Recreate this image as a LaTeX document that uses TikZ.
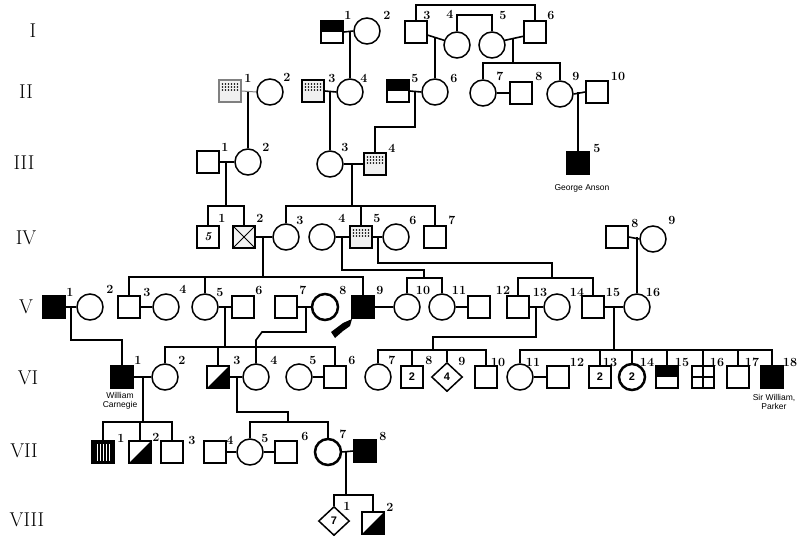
\documentclass[tikz,border=0pt]{standalone}
\usepackage{fontspec}
\newfontfamily\namefont{Liberation Sans}
\usetikzlibrary{shapes.geometric,calc}
\begin{document}
\begin{tikzpicture}[x=1pt,y=-1pt,
  sq/.style={draw, rectangle, minimum size=22pt, inner sep=0pt, line width=1.5pt},
  ci/.style={draw, circle, minimum size=26pt, inner sep=0pt, line width=1.5pt},
  thk/.style={line width=2.5pt},
  dm/.style={draw, diamond, minimum width=31pt, minimum height=29pt, inner sep=0pt, line width=1.5pt},
  blk/.style={sq, fill=black},
  halftop/.style={sq, path picture={\fill[black] (path picture bounding box.north west) rectangle (path picture bounding box.east);}},
  diagsq/.style={sq, path picture={\fill[black] (path picture bounding box.north east) -- (path picture bounding box.south east) -- (path picture bounding box.south west) -- cycle;}},
  dotsq/.style={sq, fill=gray!12, path picture={\foreach \i in {-7.5,-4.5,-1.5,1.5,4.5,7.5}{\foreach \j in {-7,-4,-1}{\fill[black] ($(path picture bounding box.center)+(\i,\j)$) circle (0.9);}}}},
  crosssq/.style={sq, fill=gray!10, path picture={\draw[line width=0.8pt] (path picture bounding box.north west) -- (path picture bounding box.south east) (path picture bounding box.north east) -- (path picture bounding box.south west);}},
  quartsq/.style={sq, path picture={\draw[line width=1.4pt] (path picture bounding box.north) -- (path picture bounding box.south) (path picture bounding box.west) -- (path picture bounding box.east);}},
  stripesq/.style={sq, fill=black, path picture={\foreach \i in {-6,-3,0,3,6}{\draw[white, line width=0.9pt] ($(path picture bounding box.center)+(\i,-8)$) -- ++(0,17);}}},
  ln/.style={line width=1.6pt},
  lab/.style={font=\fontsize{12.5}{12.5}\selectfont\bfseries, inner sep=0pt},
  gen/.style={font=\fontsize{20}{20}\selectfont, inner sep=0pt},
  nm/.style={font=\namefont\fontsize{8.5}{9.5}\selectfont, align=center, inner sep=0pt},
  inn/.style={font=\namefont\fontsize{11}{11}\selectfont\bfseries}
]
\useasboundingbox (0,0) rectangle (802,536);

% generation labels
\node[gen] (gI) at (33,31) {I};
\node[gen] (gII) at (26,92) {II};
\node[gen] (gIII) at (24,163) {III};
\node[gen] (gIV) at (26,238) {IV};
\node[gen] (gV) at (26,307) {V};
\node[gen] (gVI) at (28,378) {VI};
\node[gen] (gVII) at (24,451) {VII};
\node[gen] (gVIII) at (27,520) {VIII};

% ---------- generation I ----------
\node[halftop] (I1) at (332,32) {};
\node[ci] (I2) at (367,31) {};
\node[sq] (I3) at (416,32) {};
\node[ci] (I4) at (457,45) {};
\node[ci] (I5) at (492,45) {};
\node[sq] (I6) at (535,32) {};
\node[lab] (lI1) at (348,15) {1};
\node[lab] (lI2) at (387,15) {2};
\node[lab] (lI3) at (427,15) {3};
\node[lab] (lI4) at (450,14) {4};
\node[lab] (lI5) at (503,15) {5};
\node[lab] (lI6) at (551,15) {6};
\coordinate (tI36) at (475,5);
\coordinate (tI45) at (475,15);
\coordinate (mI34) at (434,38);
\coordinate (mI56) at (513,39);
\coordinate (bII79) at (513,63);

% ---------- generation II ----------
\node[dotsq, draw=gray] (II1) at (230,91) {};
\node[ci] (II2) at (270,92) {};
\node[dotsq] (II3) at (313,91) {};
\node[ci] (II4) at (350,92) {};
\node[halftop] (II5) at (398,91) {};
\node[ci] (II6) at (435,92) {};
\node[ci] (II7) at (483,93) {};
\node[sq] (II8) at (521,93) {};
\node[ci] (II9) at (560,94) {};
\node[sq] (II10) at (597,92) {};
\node[lab] (lII1) at (248,78) {1};
\node[lab] (lII2) at (287,77) {2};
\node[lab] (lII3) at (332,78) {3};
\node[lab] (lII4) at (364,78) {4};
\node[lab] (lII5) at (415,78) {5};
\node[lab] (lII6) at (454,78) {6};
\node[lab] (lII7) at (500,76) {7};
\node[lab] (lII8) at (539,76) {8};
\node[lab] (lII9) at (576,76) {9};
\node[lab] (lII10) at (618,76) {10};
\coordinate (mII56) at (415,92);

% ---------- generation III ----------
\node[sq] (III1) at (208,162) {};
\node[ci] (III2) at (248,162) {};
\node[ci] (III3) at (330,164) {};
\node[dotsq] (III4) at (375,164) {};
\node[blk] (III5) at (578,163) {};
\node[lab] (lIII1) at (225,147) {1};
\node[lab] (lIII2) at (266,147) {2};
\node[lab] (lIII3) at (345,147) {3};
\node[lab] (lIII4) at (392,148) {4};
\node[lab] (lIII5) at (597,148) {5};
\node[nm] (nIII5) at (582,188) {George Anson};
\coordinate (bIV12) at (226,206);
\coordinate (bIV37) at (352,206);

% ---------- generation IV ----------
\node[sq] (IV1) at (208,237) {\fontsize{12}{12}\selectfont\bfseries\itshape 5};
\node[crosssq] (IV2) at (244,237) {};
\node[ci] (IV3) at (286,237) {};
\node[ci] (IV4) at (322,237) {};
\node[dotsq] (IV5) at (361,237) {};
\node[ci] (IV6) at (396,237) {};
\node[sq] (IV7) at (435,237) {};
\node[sq] (IV8) at (617,237) {};
\node[ci] (IV9) at (653,239) {};
\node[lab] (lIV1) at (222,218) {1};
\node[lab] (lIV2) at (260,218) {2};
\node[lab] (lIV3) at (300,220) {3};
\node[lab] (lIV4) at (342,218) {4};
\node[lab] (lIV5) at (377,218) {5};
\node[lab] (lIV6) at (413,220) {6};
\node[lab] (lIV7) at (452,220) {7};
\node[lab] (lIV8) at (635,223) {8};
\node[lab] (lIV9) at (672,220) {9};
\coordinate (bV39) at (263,277);
\coordinate (mIV45) at (342,237);
\coordinate (bV1011) at (424,278);
\coordinate (mIV56) at (378,237);
\coordinate (bV1315) at (552,278);

% ---------- generation V ----------
\node[blk] (V1) at (54,307) {};
\node[ci] (V2) at (90,307) {};
\node[sq] (V3) at (129,307) {};
\node[ci] (V4) at (166,307) {};
\node[ci] (V5) at (205,307) {};
\node[sq] (V6) at (243,307) {};
\node[sq] (V7) at (286,307) {};
\node[ci, thk] (V8) at (325,307) {};
\node[blk] (V9) at (363,307) {};
\node[ci] (V10) at (407,307) {};
\node[ci] (V11) at (442,307) {};
\node[sq] (V12) at (479,307) {};
\node[sq] (V13) at (518,307) {};
\node[ci] (V14) at (557,307) {};
\node[sq] (V15) at (593,307) {};
\node[ci] (V16) at (637,307) {};
\node[lab] (lV1) at (70,292) {1};
\node[lab] (lV2) at (110,289) {2};
\node[lab] (lV3) at (147,292) {3};
\node[lab] (lV4) at (183,289) {4};
\node[lab] (lV5) at (220,292) {5};
\node[lab] (lV6) at (259,290) {6};
\node[lab] (lV7) at (303,290) {7};
\node[lab] (lV8) at (343,290) {8};
\node[lab] (lV9) at (380,290) {9};
\node[lab] (lV10) at (423,290) {10};
\node[lab] (lV11) at (459,290) {11};
\node[lab] (lV12) at (503,290) {12};
\node[lab] (lV13) at (540,292) {13};
\node[lab] (lV14) at (577,292) {14};
\node[lab] (lV15) at (613,292) {15};
\node[lab] (lV16) at (653,292) {16};
\coordinate (mV12) at (71,307);
\coordinate (bVI26) at (225,347);
\coordinate (mV78) at (306,307);
\coordinate (mV1314) at (536,307);
\coordinate (bVI710) at (433,350);
\coordinate (bVI1118) at (614,350);
% pointing hand
\fill[black] (331,332) -- (343,323) -- (352,319) -- (350,326) -- (343,331) -- (335,338) -- cycle;

% ---------- generation VI ----------
\node[blk] (VI1) at (122,377) {};
\node[ci] (VI2) at (165,377) {};
\node[diagsq] (VI3) at (218,377) {};
\node[ci] (VI4) at (256,377) {};
\node[ci] (VI5) at (299,377) {};
\node[sq] (VI6) at (335,377) {};
\node[ci] (VI7) at (378,377) {};
\node[sq, inn] (VI8) at (412,377) {2};
\node[dm, inn] (VI9) at (447,377) {4};
\node[sq] (VI10) at (486,377) {};
\node[ci] (VI11) at (520,377) {};
\node[sq] (VI12) at (558,377) {};
\node[sq, inn] (VI13) at (600,377) {2};
\node[ci, thk, inn] (VI14) at (632,377) {2};
\node[halftop] (VI15) at (667,377) {};
\node[quartsq] (VI16) at (703,377) {};
\node[sq] (VI17) at (738,377) {};
\node[blk] (VI18) at (772,377) {};
\node[lab] (lVI1) at (138,360) {1};
\node[lab] (lVI2) at (182,360) {2};
\node[lab] (lVI3) at (237,360) {3};
\node[lab] (lVI4) at (274,360) {4};
\node[lab] (lVI5) at (313,360) {5};
\node[lab] (lVI6) at (352,360) {6};
\node[lab] (lVI7) at (392,360) {7};
\node[lab] (lVI8) at (429,360) {8};
\node[lab] (lVI9) at (462,361) {9};
\node[lab] (lVI10) at (498,362) {10};
\node[lab] (lVI11) at (533,362) {11};
\node[lab] (lVI12) at (577,362) {12};
\node[lab] (lVI13) at (610,362) {13};
\node[lab] (lVI14) at (647,362) {14};
\node[lab] (lVI15) at (682,362) {15};
\node[lab] (lVI16) at (717,362) {16};
\node[lab] (lVI17) at (752,362) {17};
\node[lab] (lVI18) at (790,362) {18};
\node[nm] (nVI1) at (120,401) {William\\Carnegie};
\node[nm] (nVI18) at (774,402) {Sir William,\\Parker};
\coordinate (bVII13) at (143,422);
\coordinate (mVI34) at (237,377);
\coordinate (bVII57) at (288,422);

% ---------- generation VII ----------
\node[stripesq] (VII1) at (103,452) {};
\node[diagsq] (VII2) at (140,452) {};
\node[sq] (VII3) at (172,452) {};
\node[sq] (VII4) at (215,452) {};
\node[ci] (VII5) at (250,452) {};
\node[sq] (VII6) at (286,452) {};
\node[ci, thk] (VII7) at (328,452) {};
\node[blk] (VII8) at (365,451) {};
\node[lab] (lVII1) at (121,438) {1};
\node[lab] (lVII2) at (156,437) {2};
\node[lab] (lVII3) at (192,440) {3};
\node[lab] (lVII4) at (230,440) {4};
\node[lab] (lVII5) at (265,438) {5};
\node[lab] (lVII6) at (305,436) {6};
\node[lab] (lVII7) at (343,434) {7};
\node[lab] (lVII8) at (383,436) {8};
\coordinate (bVIII12) at (346,495);

% ---------- generation VIII ----------
\node[dm, inn] (VIII1) at (334,521) {7};
\node[diagsq] (VIII2) at (373,523) {};
\node[lab] (lVIII1) at (347,506) {1};
\node[lab] (lVIII2) at (390,507) {2};

% ---------- connectors ----------
\begin{scope}[ln]
% I
\draw (I1.east) -- (I2.west);
\draw (I3.north) |- (tI36) -| (I6.north);
\draw (I4.north) |- (tI45) -| (I5.north);
\draw (I3.-15) -- (I4.160);
\draw (I5.20) -- (I6.-160);
\draw (II4.north) -- (II4.north |- I1.east);
\draw (II6.north) -- (II6.north |- mI34);
\draw (mI56) -- (bII79);
\draw (II7.north) |- (bII79) -| (II9.north);
% II
\draw[line width=1pt, gray] (II1.east) -- (II2.west);
\draw (II3.east) -- (II4.west);
\draw (II5.east) -- (II6.west);
\draw (II7.east) -- (II8.west);
\draw (II9.east) -- (II10.west);
\draw (III2.north) -- (III2.north |- II2.west);
\draw (III3.north) -- (III3.north |- II4.west);
\draw (mII56) |- ($(III4.north)+(0,-25)$) -- (III4.north);
\draw (III5.north) -- (III5.north |- II10.west);
% III
\draw (III1.east) -- (III2.west);
\draw (III3.east) -- (III4.west);
\draw (bIV12 |- III1.east) -- (bIV12);
\draw (IV1.north) |- (bIV12) -| (IV2.north);
\draw (bIV37 |- III3.east) -- (bIV37);
\draw (IV3.north) |- (bIV37) -| (IV7.north);
\draw (IV5.north) -- (IV5.north |- bIV37);
% IV
\draw (IV2.east) -- (IV3.west);
\draw (IV4.east) -- (IV5.west);
\draw (IV5.east) -- (IV6.west);
\draw (IV8.east) -- (IV9.west);
\draw (bV39 |- IV3.west) -- (bV39);
\draw (V3.north) |- (bV39) -| (V9.north);
\draw (V5.north) -- (V5.north |- bV39);
\draw (mIV45) -- ++(0,33) -| (bV1011);
\draw (V10.north) |- (bV1011) -| (V11.north);
\draw (mIV56) -- ++(0,26) -| (bV1315);
\draw (V13.north) |- (bV1315) -| (V15.north);
\draw (V16.north) -- (V16.north |- IV8.east);
% V
\draw (V1.east) -- (V2.west);
\draw (V3.east) -- (V4.west);
\draw (V5.east) -- (V6.west);
\draw (V7.east) -- (V8.west);
\draw (V9.east) -- (V10.west);
\draw (V11.east) -- (V12.west);
\draw (V13.east) -- (V14.west);
\draw (V15.east) -- (V16.west);
\draw (mV12) -- ++(0,33) -| (VI1.north);
\draw (bVI26 |- V5.east) -- (bVI26);
\draw (VI2.north) |- (bVI26) -| (VI6.north);
\draw (VI3.north) -- (VI3.north |- bVI26);
\draw (mV78) -- ++(0,25) -- ++(-44,0) -- ($(VI4.north |- bVI26)+(0,-7)$) -- (VI4.north);
\draw (mV1314) -- ++(0,30) -| (bVI710);
\draw (VI7.north) |- (bVI710) -| (VI10.north);
\draw (VI8.north) -- (VI8.north |- bVI710);
\draw (VI9.north) -- (VI9.north |- bVI710);
\draw (bVI1118 |- V15.east) -- (bVI1118);
\draw (VI11.north) |- (bVI1118) -| (VI18.north);
\draw (VI13.north) -- (VI13.north |- bVI1118);
\draw (VI14.north) -- (VI14.north |- bVI1118);
\draw (VI15.north) -- (VI15.north |- bVI1118);
\draw (VI16.north) -- (VI16.north |- bVI1118);
\draw (VI17.north) -- (VI17.north |- bVI1118);
% VI
\draw (VI1.east) -- (VI2.west);
\draw (VI3.east) -- (VI4.west);
\draw (VI5.east) -- (VI6.west);
\draw (VI11.east) -- (VI12.west);
\draw (bVII13 |- VI1.east) -- (bVII13);
\draw (VII1.north) |- (bVII13) -| (VII3.north);
\draw (VII2.north) -- (VII2.north |- bVII13);
\draw (mVI34) -- ++(0,35) -| (bVII57);
\draw (VII5.north) |- (bVII57) -| (VII7.north);
% VII
\draw (VII4.east) -- (VII5.west);
\draw (VII5.east) -- (VII6.west);
\draw (VII7.east) -- (VII8.west);
\draw (bVIII12 |- VII8.west) -- (bVIII12);
\draw (VIII1.north) |- (bVIII12) -| (VIII2.north);
\end{scope}
\end{tikzpicture}
\end{document}
